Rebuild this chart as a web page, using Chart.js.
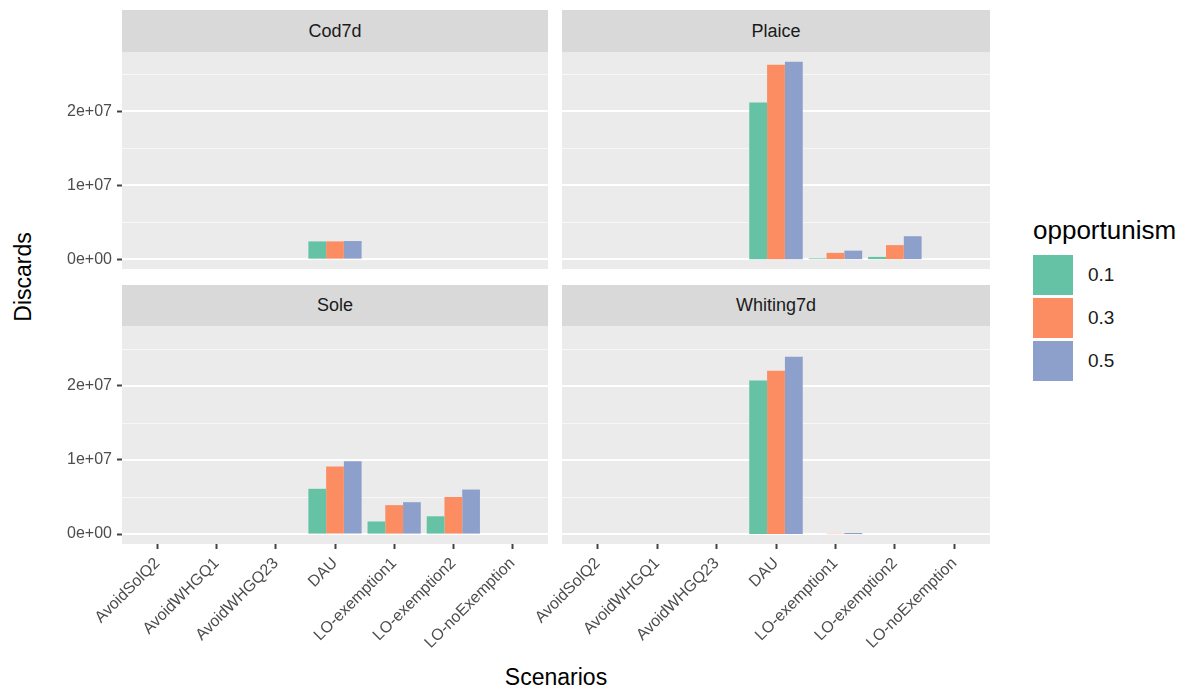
<!DOCTYPE html>
<html>
<head>
<meta charset="utf-8">
<script src="https://cdn.jsdelivr.net/npm/chart.js@4.4.1/dist/chart.umd.min.js"></script>
<style>
  body {
    margin: 0;
    width: 1192px;
    height: 697px;
    background: #ffffff;
    position: relative;
    overflow: hidden;
    font-family: "Liberation Sans", Arial, sans-serif;
  }
  .strip {
    position: absolute;
    background: #D9D9D9;
    color: #1A1A1A;
    font-size: 18px;
    display: flex;
    align-items: center;
    justify-content: center;
  }
  canvas { position: absolute; }
  .title { position: absolute; color: #000; font-size: 23px; white-space: nowrap; }
  #ytitle { transform: translate(-50%, -50%) rotate(-90deg); }
  #xtitle { transform: translate(-50%, -50%); }
  .key { position: absolute; width: 40px; height: 40px; }
  .keylabel { position: absolute; font-size: 19px; color: #1A1A1A; }
</style>
</head>
<body>
<div id="ytitle" class="title" style="left:23px; top:277px;">Discards</div>
<div id="xtitle" class="title" style="left:556px; top:677px;">Scenarios</div>
<div id="legend"></div>

<script>
const scenarios = ['AvoidSolQ2', 'AvoidWHGQ1', 'AvoidWHGQ23', 'DAU', 'LO-exemption1', 'LO-exemption2', 'LO-noExemption'];
const levels = ['0.1', '0.3', '0.5'];
const levelColors = ['#66C2A5', '#FC8D62', '#8DA0CB'];

// discards per scenario, one array per opportunism level
const cod7d01 = [0, 0, 0, 2.4e6, 0, 0, 0];
const cod7d03 = [0, 0, 0, 2.4e6, 0, 0, 0];
const cod7d05 = [0, 0, 0, 2.45e6, 0, 0, 0];

const plaice01 = [0, 0, 0, 2.12e7, 1.0e5, 3.0e5, 0];
const plaice03 = [0, 0, 0, 2.63e7, 8.5e5, 1.9e6, 0];
const plaice05 = [0, 0, 0, 2.67e7, 1.15e6, 3.1e6, 0];

const sole01 = [0, 0, 0, 6.1e6, 1.7e6, 2.4e6, 0];
const sole03 = [0, 0, 0, 9.1e6, 3.9e6, 5.0e6, 0];
const sole05 = [0, 0, 0, 9.8e6, 4.3e6, 6.0e6, 0];

const whiting01 = [0, 0, 0, 2.07e7, 0, 0, 0];
const whiting03 = [0, 0, 0, 2.2e7, 5e4, 0, 0];
const whiting05 = [0, 0, 0, 2.39e7, 1.5e5, 0, 0];

const yTicks = [0, 1e7, 2e7];
const yMinor = [5e6, 1.5e7, 2.5e7];

const stocks = ['Cod7d', 'Plaice', 'Sole', 'Whiting7d'];
const stockSeries = [
    [cod7d01, cod7d03, cod7d05],
    [plaice01, plaice03, plaice05],
    [sole01, sole03, sole05],
    [whiting01, whiting03, whiting05]
];

// shared y range, expanded 5% like the fixed facet scale
const allValues = stockSeries.flat(2);
const dataMax = Math.max(...allValues);
const yMin = -0.05 * dataMax;
const yMax = 1.05 * dataMax;

Chart.defaults.font.family = '"Liberation Sans", Arial, sans-serif';

function sci(v) {
    if (v === 0) return '0e+00';
    const e = Math.floor(Math.log10(Math.abs(v)));
    const m = Math.round(v / Math.pow(10, e) * 100) / 100;
    return m + 'e+' + String(e).padStart(2, '0');
}

const panelBackground = {
    id: 'panelBackground',
    beforeDraw(chart) {
        const {ctx, chartArea: a, scales: {y}} = chart;
        ctx.save();
        ctx.fillStyle = '#EBEBEB';
        ctx.fillRect(a.left, a.top, a.width, a.height);
        ctx.strokeStyle = '#F7F7F7';
        ctx.lineWidth = 1;
        yMinor.forEach(v => {
            const p = Math.round(y.getPixelForValue(v)) + 0.5;
            ctx.beginPath();
            ctx.moveTo(a.left, p);
            ctx.lineTo(a.right, p);
            ctx.stroke();
        });
        ctx.strokeStyle = '#FFFFFF';
        ctx.lineWidth = 2;
        yTicks.forEach(v => {
            const p = Math.round(y.getPixelForValue(v));
            ctx.beginPath();
            ctx.moveTo(a.left, p);
            ctx.lineTo(a.right, p);
            ctx.stroke();
        });
        ctx.restore();
    }
};

// panel boxes: [left, top, width, height] of the plotting area
const panels = [
    {box: [122, 52, 426, 217], strip: [10, 52], showY: true, showX: false},
    {box: [562, 52, 428, 217], strip: [10, 52], showY: false, showX: false},
    {box: [122, 326, 426, 218], strip: [285, 326], showY: true, showX: true},
    {box: [562, 326, 428, 218], strip: [285, 326], showY: false, showX: true}
];

const padV = 20;
const xAxisHeight = 112;

panels.forEach((p, n) => {
    const [left, top, w, h] = p.box;

    let strip = document.createElement('div');
    strip.className = 'strip';
    strip.style.left = left + 'px';
    strip.style.top = p.strip[0] + 'px';
    strip.style.width = w + 'px';
    strip.style.height = (p.strip[1] - p.strip[0]) + 'px';
    strip.textContent = stocks[n];
    document.body.appendChild(strip);

    // canvas is larger than the panel so labels never squeeze the plotting area
    const padL = p.showY ? 0 : 112;
    const axisW = p.showY ? left : 0;
    const canvasLeft = left - padL - axisW;
    const canvasTop = top - padV;
    const canvasW = padL + axisW + w + 20;
    const canvasH = padV + h + (p.showX ? xAxisHeight : padV);

    let canvas = document.createElement('canvas');
    canvas.width = canvasW;
    canvas.height = canvasH;
    canvas.style.left = canvasLeft + 'px';
    canvas.style.top = canvasTop + 'px';
    document.body.appendChild(canvas);

    new Chart(canvas.getContext('2d'), {
        type: 'bar',
        data: {
            datasets: levels.map((lv, k) => ({
                label: lv,
                data: stockSeries[n][k].map((v, i) => ({x: i, y: v})),
                backgroundColor: levelColors[k],
                borderWidth: 0,
                categoryPercentage: 0.9,
                barPercentage: 1.0
            }))
        },
        options: {
            responsive: false,
            animation: false,
            events: [],
            layout: {
                padding: {left: padL, right: 20, top: padV, bottom: p.showX ? 0 : padV}
            },
            plugins: {
                legend: {display: false},
                tooltip: {enabled: false}
            },
            scales: {
                x: {
                    type: 'linear',
                    offset: false,
                    min: -0.6,
                    max: scenarios.length - 0.4,
                    display: p.showX,
                    afterBuildTicks: s => {
                        s.ticks = scenarios.map((_, i) => ({value: i}));
                    },
                    afterFit: s => {
                        if (p.showX) s.height = xAxisHeight;
                    },
                    grid: {
                        offset: false,
                        drawOnChartArea: false,
                        tickLength: 5,
                        tickColor: '#444444',
                        tickWidth: 2
                    },
                    border: {display: false},
                    ticks: {
                        autoSkip: false,
                        minRotation: 45,
                        maxRotation: 45,
                        padding: 5,
                        color: '#4D4D4D',
                        font: {size: 16},
                        callback: v => scenarios[v]
                    }
                },
                y: {
                    min: yMin,
                    max: yMax,
                    display: p.showY,
                    afterBuildTicks: s => {
                        s.ticks = yTicks.map(v => ({value: v}));
                    },
                    afterFit: s => {
                        if (p.showY) s.width = left;
                    },
                    grid: {
                        drawOnChartArea: false,
                        tickLength: 5,
                        tickColor: '#444444',
                        tickWidth: 2
                    },
                    border: {display: false},
                    ticks: {
                        padding: 5,
                        color: '#4D4D4D',
                        font: {size: 16},
                        callback: v => sci(v)
                    }
                }
            }
        },
        plugins: [panelBackground]
    });
});

// legend for the fill scale
const legend = document.getElementById('legend');
let legendTitle = document.createElement('div');
legendTitle.className = 'title';
legendTitle.style.left = '1033px';
legendTitle.style.top = '215px';
legendTitle.style.fontSize = '26px';
legendTitle.textContent = 'opportunism';
legend.appendChild(legendTitle);

levels.forEach((lv, k) => {
    const top = 255 + k * 43;
    let key = document.createElement('div');
    key.className = 'key';
    key.style.left = '1033px';
    key.style.top = top + 'px';
    key.style.background = levelColors[k];
    legend.appendChild(key);

    let label = document.createElement('div');
    label.className = 'keylabel';
    label.style.left = '1088px';
    label.style.top = (top + 9) + 'px';
    label.textContent = lv;
    legend.appendChild(label);
});
</script>
</body>
</html>
